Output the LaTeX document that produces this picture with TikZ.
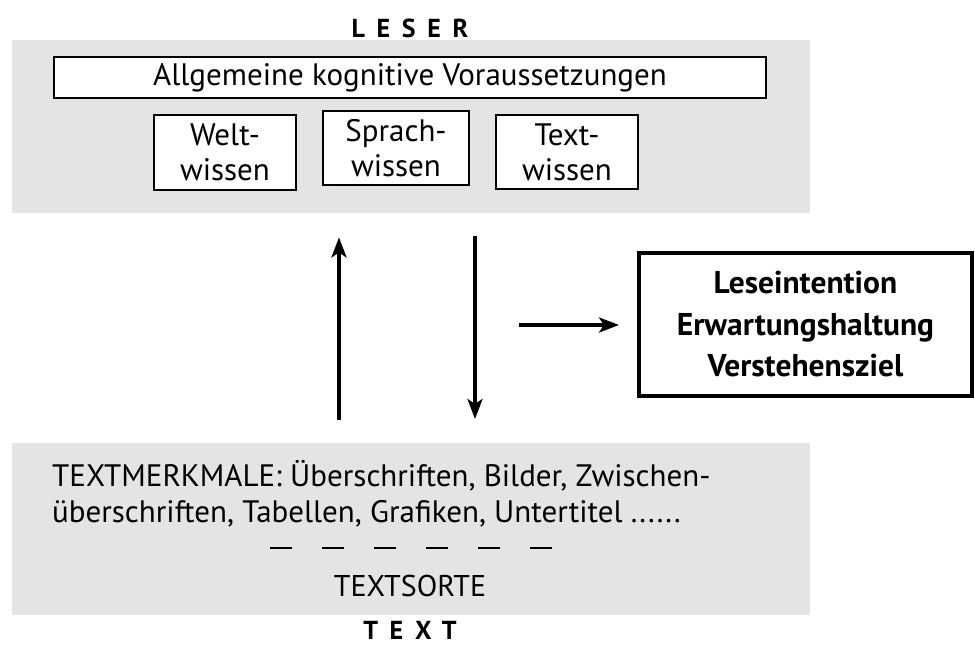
\documentclass[tikz,border=0pt]{standalone}
\usepackage{fontspec}
\setmainfont{PT Sans}
\newfontfamily\spacedfont[LetterSpace=45.0]{PT Sans}
\usetikzlibrary{positioning, arrows.meta}
\definecolor{panelgray}{HTML}{E3E4E4}

\begin{document}
\begin{tikzpicture}[x=1pt, y=-1pt,
    panel/.style={fill=panelgray, draw=none, inner sep=0pt, anchor=north west},
    knowbox/.style={draw, fill=white, line width=1.2pt, inner sep=0pt, align=center,
      font=\fontsize{31}{35}\selectfont},
    goalbox/.style={draw, fill=white, line width=4pt, inner sep=0pt, align=center,
      font=\fontsize{31.5}{41.5}\selectfont\bfseries},
    title/.style={font=\fontsize{26}{30}\selectfont\bfseries\spacedfont},
    flow/.style={line width=3.8pt, -{Stealth[length=20pt, width=15pt, inset=5pt]}},
    bigflow/.style={line width=4.5pt, -{Stealth[length=20pt, width=15pt, inset=5pt]}}]
    \useasboundingbox (0,0) rectangle (975,646);

    % Leser
    \node[panel, minimum width=798, minimum height=173] (leserpanel) at (12,40) {};
    \node[title] (leser) at (410,28) {LESER};
    \node[knowbox, minimum width=712, minimum height=41] (voraus) at (410,77.5) {Allgemeine kognitive Voraussetzungen};
    \node[knowbox, minimum width=142, minimum height=75] (welt) at (225,152.5) {Welt-\\wissen};
    \node[knowbox, minimum width=146, minimum height=74] (sprach) at (396,148) {Sprach-\\wissen};
    \node[knowbox, minimum width=142, minimum height=74] (textw) at (567,152) {Text-\\wissen};

    % Text
    \node[panel, minimum width=798, minimum height=172] (textpanel) at (12,443) {};
    \node[title] (textlabel) at (410,630) {TEXT};
    \node[anchor=base west, align=left, inner sep=0pt, font=\fontsize{31}{36}\selectfont] (merkmale) at (52,522)
      {TEXTMERKMALE: Überschriften, Bilder, Zwischen-\\überschriften, Tabellen, Grafiken, Untertitel ......};
    \foreach \x in {270,322,374,426,478,530} \draw[line width=1.5pt] (\x,548) -- ++(22,0);
    \node[anchor=base, font=\fontsize{30}{36}\selectfont] (sorte) at (410,596) {TEXTSORTE};

    % Ziel
    \node[goalbox, minimum width=333, minimum height=143] (ziel) at (805.5,324.5) {Leseintention\\Erwartungshaltung\\Verstehensziel};

    % Pfeile
    \coordinate (upx) at (339,0);
    \coordinate (downx) at (475,0);
    \coordinate (tail) at (519,325);
    \draw[flow, shorten <=23pt, shorten >=24pt] (upx |- textpanel.north) -- (upx |- leserpanel.south);
    \draw[flow, shorten <=23pt, shorten >=24pt] (downx |- leserpanel.south) -- (downx |- textpanel.north);
    \draw[bigflow, shorten >=18pt] (tail) -- (tail -| ziel.west);
\end{tikzpicture}
\end{document}
